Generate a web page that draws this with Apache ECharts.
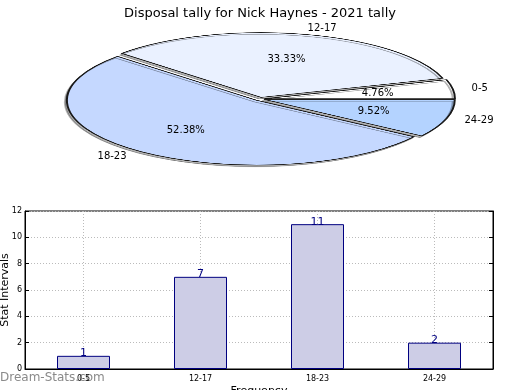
<!DOCTYPE html>
<html><head><meta charset="utf-8">
<script src="https://cdn.jsdelivr.net/npm/echarts@6/dist/echarts.min.js"></script>
<style>
html,body{margin:0;padding:0;background:#fff;}
#wrap{position:relative;width:520px;height:390px;overflow:hidden;}
#pie{position:absolute;left:60px;top:-101px;width:400px;height:400px;transform:scaleY(0.3405);transform-origin:200px 200px;z-index:0;}
#main{position:absolute;left:0;top:0;width:520px;height:390px;z-index:1;}
</style></head>
<body><div id="wrap"><div id="pie"></div><div id="main"></div></div>
<script>
const title = 'Disposal tally for Nick Haynes - 2021 tally';
const categories = ['0-5', '12-17', '18-23', '24-29'];
const counts = [1, 7, 11, 2];
const pieColors = ['#ffffff', '#eaf1ff', '#c5d8ff', '#b4d3ff'];
const yTicks = { min: 0, max: 12, interval: 2 };

const FONT = 'DejaVu Sans';
const R = 190, SCALE = 0.3405, OFFSET = 5;
const CX = 260, CY = 99;

const pie = echarts.init(document.getElementById('pie'), null, {renderer: 'canvas'});
pie.setOption({
  animation: false,
  series: [{
    type: 'pie',
    center: ['50%', '50%'],
    radius: R,
    startAngle: 0,
    clockwise: false,
    selectedMode: 'multiple',
    selectedOffset: OFFSET,
    label: {show: false},
    labelLine: {show: false},
    emphasis: {disabled: true},
    itemStyle: {borderColor: '#1a1a1a', borderWidth: 2,
      shadowColor: 'rgba(0,0,0,0.3)', shadowOffsetX: -2, shadowOffsetY: 5, shadowBlur: 0},
    data: categories.map((c, i) => ({name: c, value: counts[i], selected: true,
      itemStyle: {color: pieColors[i]}}))
  }]
});

const total = counts.reduce((a, b) => a + b, 0);
const graphics = [];
let acc = 0;
categories.forEach((c, i) => {
  const frac = counts[i] / total;
  const mid = (acc + frac / 2) * 2 * Math.PI;
  acc += frac;
  const cs = Math.cos(mid), sn = Math.sin(mid);
  const ox = OFFSET * cs, oy = -OFFSET * sn * SCALE;
  const ry = R * SCALE;
  graphics.push({type: 'text', x: CX + 0.6 * R * cs + ox, y: CY - 0.6 * ry * sn + oy,
    style: {text: (frac * 100).toFixed(2) + '%', font: '10px "' + FONT + '"', fill: '#000',
      align: 'center', verticalAlign: 'middle'}});
  graphics.push({type: 'text', x: CX + 1.1 * R * cs + ox, y: CY - 1.1 * ry * sn + oy,
    style: {text: c, font: '10px "' + FONT + '"', fill: '#000',
      align: cs > 0 ? 'left' : 'right', verticalAlign: 'middle'}});
});
graphics.push({type: 'text', left: 0, top: 372,
  style: {text: 'Dream-Stats.com', font: '12px "' + FONT + '"', fill: '#8a8a8a'}});

const chart = echarts.init(document.getElementById('main'), null, {renderer: 'canvas'});
chart.setOption({
  animation: false,
  backgroundColor: 'transparent',
  textStyle: {fontFamily: FONT},
  title: {text: title, left: 'center', top: 2,
    textStyle: {fontFamily: FONT, fontSize: 13, fontWeight: 'normal', color: '#000'}},
  graphic: graphics,
  grid: {left: 25, right: 27, top: 211, bottom: 21, show: true, borderColor: '#000', borderWidth: 1,
    containLabel: false, outerBoundsMode: 'none'},
  xAxis: {
    type: 'category', data: categories,
    name: 'Frequency', nameLocation: 'middle', nameGap: 17, nameMoveOverlap: false,
    nameTextStyle: {fontSize: 11, color: '#000'},
    axisLine: {lineStyle: {color: '#000'}},
    axisTick: {inside: true, alignWithLabel: true, length: 4, lineStyle: {color: '#000'}},
    axisLabel: {fontSize: 8, color: '#000', margin: 6},
    splitLine: {show: true, alignWithLabel: true, lineStyle: {color: '#bbb', type: [1, 2]}}
  },
  yAxis: [{
    type: 'value', min: yTicks.min, max: yTicks.max, interval: yTicks.interval,
    name: 'Stat Intervals', nameLocation: 'middle', nameGap: 14, nameMoveOverlap: false,
    nameTextStyle: {fontSize: 11, color: '#000'},
    axisLine: {show: true, lineStyle: {color: '#000'}},
    axisTick: {show: true, inside: true, length: 4, lineStyle: {color: '#000'}},
    axisLabel: {fontSize: 8, color: '#000', margin: 3},
    splitLine: {show: true, lineStyle: {color: '#bbb', type: [1, 2]}}
  }, {
    type: 'value', min: yTicks.min, max: yTicks.max, interval: yTicks.interval, position: 'right',
    axisLine: {show: true, lineStyle: {color: '#000'}},
    axisTick: {show: true, inside: true, length: 4, lineStyle: {color: '#000'}},
    axisLabel: {show: false}, splitLine: {show: false}
  }],
  series: [{
    type: 'bar', data: counts, barWidth: 53,
    itemStyle: {color: '#cdcde6', borderColor: '#000080', borderWidth: 1},
    label: {show: true, position: 'top', distance: -3, fontSize: 11, color: '#000080'},
    emphasis: {disabled: true}
  }]
});
</script></body></html>
